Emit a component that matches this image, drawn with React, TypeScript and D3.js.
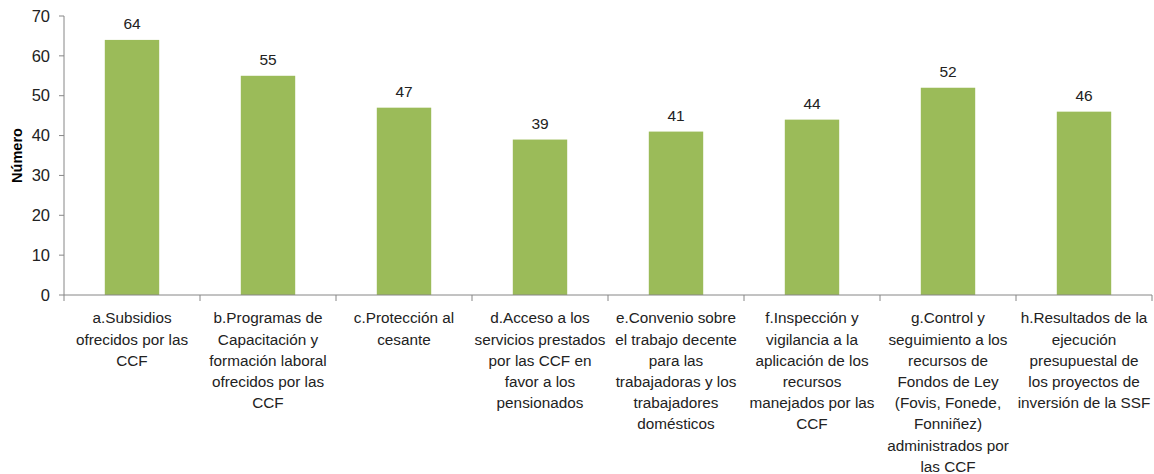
import React from "react";
import * as d3 from "d3";

const categories: string[][] = [
  ["a.Subsidios", "ofrecidos por las", "CCF"],
  ["b.Programas de", "Capacitación y", "formación laboral", "ofrecidos por las", "CCF"],
  ["c.Protección al", "cesante"],
  ["d.Acceso a los", "servicios prestados", "por las CCF en", "favor a los", "pensionados"],
  ["e.Convenio sobre", "el trabajo decente", "para las", "trabajadoras y los", "trabajadores", "domésticos"],
  ["f.Inspección y", "vigilancia a la", "aplicación de los", "recursos", "manejados por las", "CCF"],
  ["g.Control y", "seguimiento a los", "recursos de", "Fondos de Ley", "(Fovis, Fonede,", "Fonniñez)", "administrados por", "las CCF"],
  ["h.Resultados de la", "ejecución", "presupuestal de", "los proyectos de", "inversión de la SSF"],
];
const values: number[] = [64, 55, 47, 39, 41, 44, 52, 46];
const yTicks: number[] = [0, 10, 20, 30, 40, 50, 60, 70];

const W = 1154;
const H = 474;
const left = 64;
const right = 1152;
const top = 16;
const bottom = 295;
const FONT = "'Liberation Sans', Arial, sans-serif";

export default function App() {
  const ids = categories.map((_, i) => String(i));
  const x = d3.scaleBand<string>().domain(ids).range([left, right]).paddingInner(0.6).paddingOuter(0.3);
  const xb = d3.scaleBand<string>().domain(ids).range([left, right]);
  const y = d3.scaleLinear().domain([0, 70]).range([bottom, top]);
  const axisColor = "#868686";
  return (
    <svg width={W} height={H} style={{ position: "absolute", left: 0, top: 0 }} fontFamily={FONT}>
      <rect x={0} y={0} width={W} height={H} fill="#fff" />
      {/* bars */}
      {values.map((v, i) => (
        <rect key={i} x={x(String(i))} y={y(v)} width={x.bandwidth()} height={y(0) - y(v)} fill="#9BBB59" />
      ))}
      {/* value labels */}
      {values.map((v, i) => (
        <text key={i} x={(x(String(i)) as number) + x.bandwidth() / 2} y={y(v) - 11} textAnchor="middle" fontSize={15.5} fill="#222">
          {v}
        </text>
      ))}
      {/* y axis */}
      <line x1={left} x2={left} y1={top} y2={bottom} stroke={axisColor} />
      {yTicks.map((t) => (
        <g key={t}>
          <line x1={left - 5} x2={left} y1={y(t)} y2={y(t)} stroke={axisColor} />
          <text x={left - 14} y={y(t)} dy="0.35em" textAnchor="end" fontSize={16.5} fill="#222">
            {t}
          </text>
        </g>
      ))}
      {/* x axis */}
      <line x1={left} x2={right} y1={bottom} y2={bottom} stroke={axisColor} />
      {ids.concat(["end"]).map((id, i) => {
        const xx = i < ids.length ? (xb(id) as number) : right;
        return <line key={i} x1={xx} x2={xx} y1={bottom} y2={bottom + 6} stroke={axisColor} />;
      })}
      {/* category labels */}
      {categories.map((lines, i) => (
        <text key={i} textAnchor="middle" fontSize={15.3} fill="#222">
          {lines.map((ln, j) => (
            <tspan key={j} x={(xb(String(i)) as number) + xb.bandwidth() / 2} y={318 + j * 21.2} dy="0.35em">
              {ln}
            </tspan>
          ))}
        </text>
      ))}
      {/* y title */}
      <text transform={`translate(17,${(top + bottom) / 2}) rotate(-90)`} textAnchor="middle" dy="0.35em" fontSize={14.5} fontWeight="bold" fill="#000">
        Número
      </text>
    </svg>
  );
}
